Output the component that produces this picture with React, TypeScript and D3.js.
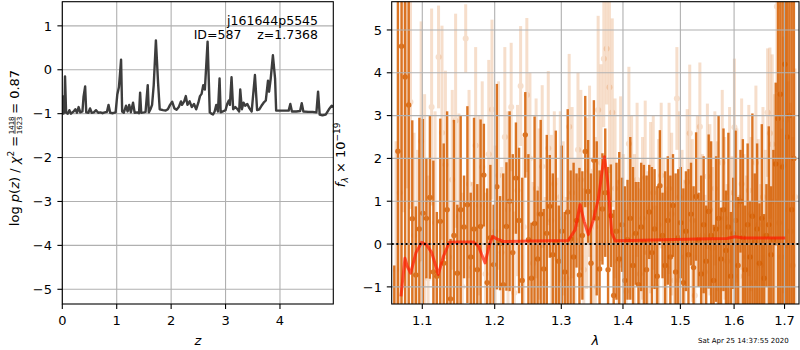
import React from "react";
import * as d3 from "d3";

const W = 800;
const H = 350;
const FONT = "DejaVu Sans, sans-serif";

// ---- left panel: log p(z) ----
const zGrid = [
  0.0, 0.02, 0.04, 0.05, 0.07, 0.1, 0.13, 0.16, 0.2, 0.24, 0.27, 0.3, 0.33, 0.37, 0.39, 0.42, 0.44,
  0.48, 0.51, 0.54, 0.58, 0.62, 0.66, 0.7, 0.74, 0.78, 0.82, 0.85, 0.88, 0.93, 0.98, 1.01, 1.04,
  1.06, 1.08, 1.1, 1.13, 1.17, 1.2, 1.23, 1.26, 1.3, 1.33, 1.38, 1.41, 1.43, 1.45, 1.5, 1.53, 1.57,
  1.59, 1.62, 1.65, 1.68, 1.72, 1.76, 1.79, 1.85, 1.9, 1.94, 1.98, 2.02, 2.06, 2.1, 2.14, 2.18,
  2.2, 2.24, 2.27, 2.3, 2.34, 2.38, 2.42, 2.46, 2.5, 2.53, 2.56, 2.59, 2.62, 2.67, 2.71, 2.74,
  2.77, 2.8, 2.83, 2.86, 2.89, 2.91, 2.95, 3.0, 3.03, 3.06, 3.08, 3.11, 3.14, 3.18, 3.22, 3.25,
  3.27, 3.3, 3.33, 3.36, 3.4, 3.44, 3.48, 3.54, 3.58, 3.62, 3.66, 3.7, 3.74, 3.78, 3.8, 3.83,
  3.87, 3.91, 3.93, 4.0, 4.08, 4.16, 4.19, 4.22, 4.3, 4.37, 4.4, 4.43, 4.52, 4.6, 4.67, 4.7, 4.73,
  4.78, 4.84, 4.9, 4.95, 4.98,
];
const logPz = [
  -0.58, -1.0, -0.95, -0.15, -0.98, -1.0, -0.92, -1.0, -0.96, -0.9, -0.98, -0.85, -0.97, -0.95,
  -0.62, -0.38, -0.97, -0.98, -0.88, -0.98, -0.97, -0.92, -0.98, -0.97, -0.99, -0.97, -0.96, -0.8,
  -0.98, -0.99, -0.97, -0.57, -0.4, -0.1, 0.23, -0.95, -0.98, -0.82, -0.95, -0.8, -0.97, -0.75,
  -0.98, -0.97, -0.99, -0.52, -0.98, -0.97, -0.96, -0.35, -0.97, -0.9, -0.8, -0.35, 0.67, -0.3,
  -0.9, -0.92, -0.93, -0.9, -0.8, -0.73, -0.88, -0.91, -0.85, -0.72, -0.8, -0.72, -0.6, -0.8,
  -0.72, -0.85, -0.78, -0.9, -0.75, -0.6, -0.55, -0.35, -0.45, 0.64, -0.97, -1.0, -1.02, -0.95,
  -0.8, -0.95, -0.2, -0.97, -0.95, -0.92, -0.78, -0.7, -0.8, -0.17, -0.9, -0.85, -0.9, -0.95,
  -0.45, -0.9, -0.75, -0.82, -0.78, -0.88, -0.95, -0.12, -0.92, -0.9, -0.82, -0.75, -0.7, -0.25,
  -0.5, -0.2, 0.33, -0.2, -0.93, -0.93, -0.93, -0.93, -0.78, -0.95, -0.95, -0.94, -0.76, -0.95,
  -0.96, -0.96, -0.97, -0.5, -1.02, -1.04, -1.02, -0.9, -0.82, -0.85,
];

// ---- right panel: spectrum (uniform grism sampling) ----
const darkLam0 = 1.0636;
const lightLam0 = 1.0659;
const dLam = 0.00465;

const darkFlux = [
  -2.0, 2.17, 4.62, 3.9, 3.25, 0.59, -0.72, 0.35, 0.72, 0.6,
  1.09, -0.65, -0.75, 0.53, -0.45, 0.8, -1.28, 0.2, -0.68, 0.8,
  0.4, 0.92, -0.3, 0.35, -0.6, 0.41, 1.61, -0.9, 0.15, -0.48,
  1.34, 0.02, -0.95, 0.41, 1.0, -0.2, 1.54, 0.55, -0.85, 2.55,
  0.1, -0.8, 0.48, -0.35, 0.7, -0.58, 0.25, 0.88, -0.25, 0.05,
  -0.4, 0.3, -0.65, 0.75, 0.12, -0.3, 0.55, -0.72, 0.2, 2.16,
  1.23, -0.45, 1.96, 0.6, -0.58, 0.82, 1.2, -0.6, 0.66, -1.2,
  0.3, -0.35, 0.45, -0.85, 0.1, 0.6, -0.5, 0.25, -0.95, 0.4,
  0.05, -0.6, 0.75, -0.2, 0.35, -0.75, 1.36, 0.2, -0.5, 0.55,
  -0.3, 0.9, -0.65, 0.15, 0.5, -0.9, 0.3, -0.25, 0.7, -0.55,
  1.11, 0.1, -0.7, 0.45, -0.4, 0.76, 0.2, -0.85, 0.35, 0.6,
  -0.35, 0.8, -0.15, 0.4, -0.75, 0.25, 0.55, -0.5, 1.0, 0.15,
  -0.6, 0.45, -0.3, 0.65, 0.05, 0.35, -0.45, 0.6, -0.8, 0.2,
  0.45, -0.25, 0.1, 1.87, 2.93, 3.5, 1.8, 4.2, 2.5, 3.0,
  0.8, 2.0,
];
const darkErr = [
  1.5, 9, 9, 9, 9,
  2.3, 1.6, 2.6, 2.2, 1.4, 1.9, 2.6, 1.5, 2.4, 2.8,
  2.3, 1.4, 2.7, 1.6, 2.2, 1.2, 2.3, 1.5, 2.6, 2.0,
  2.5, 1.2, 2.2, 1.7, 1.4, 2.4, 1.1, 2.6, 1.5, 2.1,
  2.3, 1.3, 1.7, 2.4, 1.0, 2.0, 1.3, 2.5, 1.6, 2.2,
  1.4, 2.3, 1.2, 1.9, 2.6, 1.3, 2.0, 1.4, 2.4, 1.6,
  2.2, 1.1, 2.5, 1.5, 1.3, 1.2, 2.1, 1.4, 1.8, 2.3,
  1.3, 1.5, 2.4, 1.2, 2.0, 1.6, 2.5, 1.1, 2.2, 1.4,
  1.9, 2.3, 1.2, 2.4, 1.5, 1.8, 2.2, 1.1, 2.0, 1.4,
  2.1, 1.3, 1.0, 2.2, 1.5, 1.9, 1.2, 2.3, 1.6, 1.3,
  2.2, 1.4, 2.0, 1.2, 1.9, 1.5, 1.1, 2.3, 1.6, 1.3,
  1.8, 2.2, 1.3, 1.7, 2.4, 1.2, 1.9, 1.4, 2.2, 1.5,
  1.3, 2.1, 1.6, 1.2, 2.3, 1.5, 1.9, 1.3, 2.4, 1.6,
  2.0, 1.4, 2.2, 1.5, 1.2, 2.3, 1.6, 2.1, 1.9,
  9, 9, 9, 9, 9, 9, 9, 9,
];
const lightFlux = [
  -0.6, 1.2, 3.94, 3.9, 3.32, 0.2, -0.4, 2.4, 1.0, -0.8,
  3.2, 0.5, 4.37, 2.6, 1.85, -0.3, 1.5, 2.88, 0.65, -1.0,
  4.8, 1.4, -0.55, 2.3, 0.9, 1.8, -0.7, 2.1, 3.14, 0.3,
  1.6, -0.2, 2.5, 0.8, 3.2, -1.14, 1.25, 3.69, 0.4, 3.48,
  2.0, -0.45, 1.3, 0.7, 1.81, -0.9, 2.24, 0.55, 1.4, -0.35,
  1.1, 0.6, -0.8, 2.74, 1.2, 0.1, 2.2, 1.5, -0.6, 0.95,
  1.7, -1.0, 0.4, 3.13, 1.9, 4.33, 4.56, 3.66, 3.07, 1.3,
  -0.4, 1.45, 0.3, -1.1, 2.34, 1.0, 0.2, 1.5, -0.7, 0.6,
  1.55, -0.2, 0.85, 1.2, -1.0, 0.45, 1.6, 0.1, -0.55, 1.3,
  0.7, -0.85, 3.4, 1.1, 0.3, -0.3, 1.45, 2.59, 0.55, -1.2,
  1.0, 2.74, 0.2, -0.65, 1.58, 0.8, -0.1, 1.3, 0.4, -1.05,
  1.9, 0.6, -0.4, 1.2, 0.15, 2.73, 0.9, -0.75, 1.4, 0.3,
  -0.3, 1.25, 0.7, -0.9, 1.9, 0.45, -0.5, 1.1, 0.2, 3.07,
  2.59, 2.33, 1.0, 5.55, 0.5, -0.3, 1.85, 2.9, 0.8, 0.3,
  -0.5, 1.1,
];
const lightErr = [
  3.0, 2.8, 3.2, 2.6, 2.5, 2.4, 2.6, 2.8, 2.5, 2.4,
  2.3, 2.6, 1.2, 2.5, 2.2, 2.3, 2.1, 2.5, 2.4, 2.2,
  0.8, 2.2, 2.0, 2.3, 2.1, 2.0, 1.9, 2.2, 2.1, 2.0,
  2.2, 2.0, 2.1, 2.3, 1.5, 1.9, 2.0, 1.4, 2.1, 1.8,
  2.0, 1.9, 2.1, 2.0, 1.9, 2.0, 1.8, 2.0, 1.7, 1.9,
  2.0, 1.8, 1.9, 1.7, 2.0, 1.9, 1.8, 2.1, 1.9, 2.0,
  2.0, 1.8, 2.1, 2.2, 2.3, 1.6, 1.3, 2.0, 2.2, 2.1,
  1.9, 2.0, 1.8, 1.9, 1.8, 2.0, 1.9, 1.8, 2.0, 1.9,
  1.8, 1.9, 2.0, 1.8, 1.9, 2.0, 1.7, 1.9, 1.8, 2.0,
  1.9, 1.8, 1.2, 2.0, 1.9, 1.8, 1.7, 1.6, 1.9, 1.8,
  2.0, 1.5, 1.9, 1.8, 1.7, 2.0, 1.9, 1.8, 2.0, 1.9,
  1.7, 1.9, 1.8, 2.0, 1.9, 1.6, 1.8, 1.9, 2.0, 1.8,
  1.9, 2.0, 1.8, 1.9, 1.8, 2.0, 1.9, 2.1, 2.0, 1.5,
  2.0, 2.1, 2.5, 2.0, 3.0, 3.0, 3.0, 3.0, 3.0, 3.0,
  3.0, 3.0,
];

// best-fit model
const modelLam = [
  1.0722, 1.0773, 1.0804, 1.0847, 1.0917, 1.0992, 1.1058, 1.1125, 1.1214, 1.1282, 1.1363, 1.1464,
  1.1696, 1.1767, 1.1862, 1.1924, 1.1972, 1.2029, 1.2126, 1.2521, 1.3111, 1.3217, 1.3297, 1.3361,
  1.343, 1.3512, 1.3593, 1.3664, 1.3691, 1.3741, 1.3813, 1.3868, 1.4121, 1.4697, 1.5299, 1.5861,
  1.602, 1.6182, 1.7014,
];
const modelFlux = [
  -1.22, -0.33, -0.52, -0.68, -0.2, 0.04, -0.02, -0.2, -0.71, -0.29, 0.04, 0.05,
  0.05, -0.05, -0.44, -0.02, 0.18, 0.12, 0.06, 0.07, 0.085, 0.33, 0.92, 0.53,
  0.22, 0.57, 1.07, 1.81, 2.04, 1.5, 0.26, 0.08, 0.085, 0.1, 0.116, 0.13,
  0.17, 0.14, 0.14,
];

const zTicks = [0, 1, 2, 3, 4];
const pzTicks = [-5, -4, -3, -2, -1, 0, 1];
const lamTicks = [1.1, 1.2, 1.3, 1.4, 1.5, 1.6, 1.7];
const fluxTicks = [-1, 0, 1, 2, 3, 4, 5];

const ORANGE = "#d55e00";
const GRID = "#b0b0b0";
const TICK = 4.9;
const fmt = (v: number) => (v < 0 ? "\u2212" + Math.abs(v) : String(v));

// axes boxes
const L = { x0: 62.3, x1: 333.3, y0: 1.7, y1: 304 };
const R = { x0: 391.7, x1: 799, y0: 1.7, y1: 304 };

const xz = d3.scaleLinear().domain([0, 4.98]).range([L.x0, L.x1]);
const yz = d3.scaleLinear().domain([-5.335, 1.55]).range([L.y1, L.y0]);
const xl = d3.scaleLog().domain([1.0603, 1.7298]).range([R.x0, R.x1]);
const yf = d3.scaleLinear().domain([-1.4, 5.66]).range([R.y1, R.y0]);

const pzLine = d3
  .line<number>()
  .x((_, i) => xz(zGrid[i]))
  .y((d) => yz(d));

const modelLine = d3
  .line<number>()
  .x((_, i) => xl(modelLam[i]))
  .y((d) => yf(d));

function ErrorBars({
  lam0,
  flux,
  err,
  opacity,
  width,
  r,
}: {
  lam0: number;
  flux: number[];
  err: number[];
  opacity: number;
  width: number;
  r: number;
}) {
  return (
    <g>
      {flux.map((f, i) => {
        const x = xl(lam0 + i * dLam);
        return (
          <g key={i} opacity={opacity}>
            <line x1={x} x2={x} y1={yf(f - err[i])} y2={yf(f + err[i])} stroke={ORANGE} strokeWidth={width} />
            <circle cx={x} cy={yf(f)} r={r} fill={ORANGE} />
          </g>
        );
      })}
    </g>
  );
}

function Frame({ box }: { box: typeof L }) {
  return (
    <rect
      x={box.x0}
      y={box.y0}
      width={box.x1 - box.x0}
      height={box.y1 - box.y0}
      fill="none"
      stroke="#000"
      strokeWidth={1.1}
    />
  );
}

export default function App() {
  return (
    <svg
      width={W}
      height={H}
      style={{ position: "absolute", left: 0, top: 0, background: "#fff" }}
      fontFamily={FONT}
    >
      <defs>
        <clipPath id="clipL">
          <rect x={L.x0} y={L.y0} width={L.x1 - L.x0} height={L.y1 - L.y0} />
        </clipPath>
        <clipPath id="clipR">
          <rect x={R.x0} y={R.y0} width={R.x1 - R.x0} height={R.y1 - R.y0} />
        </clipPath>
      </defs>
      <rect width={W} height={H} fill="#fff" />

      {/* ---------- left panel ---------- */}
      <g>
        {zTicks.map((t) => (
          <line key={"gx" + t} x1={xz(t)} x2={xz(t)} y1={L.y0} y2={L.y1} stroke={GRID} strokeWidth={1.1} />
        ))}
        {pzTicks.map((t) => (
          <line key={"gy" + t} x1={L.x0} x2={L.x1} y1={yz(t)} y2={yz(t)} stroke={GRID} strokeWidth={1.1} />
        ))}
        <path
          d={pzLine(logPz) || ""}
          fill="none"
          stroke="#3d3d3d"
          strokeWidth={2.4}
          strokeLinejoin="round"
          clipPath="url(#clipL)"
        />
        <Frame box={L} />
        {zTicks.map((t) => (
          <g key={"tx" + t}>
            <line x1={xz(t)} x2={xz(t)} y1={L.y1} y2={L.y1 + TICK} stroke="#000" strokeWidth={1.1} />
            <text x={xz(t)} y={325} fontSize={13} textAnchor="middle">
              {fmt(t)}
            </text>
          </g>
        ))}
        {pzTicks.map((t) => (
          <g key={"ty" + t}>
            <line x1={L.x0 - TICK} x2={L.x0} y1={yz(t)} y2={yz(t)} stroke="#000" strokeWidth={1.1} />
            <text x={52} y={yz(t)} dy="0.36em" fontSize={13} textAnchor="end">
              {fmt(t)}
            </text>
          </g>
        ))}
        <text x={(L.x0 + L.x1) / 2} y={345} fontSize={13} fontStyle="italic" textAnchor="middle">
          z
        </text>
        <text x={318} y={25} fontSize={12.5} textAnchor="end">
          j161644p5545
        </text>
        <text x={318} y={39} fontSize={12.5} textAnchor="end" style={{ whiteSpace: "pre" }}>
          {"ID=587    z=1.7368"}
        </text>
        {/* y label with stacked fraction */}
        <g transform={`translate(19,${(L.y0 + L.y1) / 2}) rotate(-90)`} fontSize={13}>
          <text x={17} y={0} textAnchor="end" style={{ whiteSpace: "pre" }}>
            <tspan>log </tspan>
            <tspan fontStyle="italic">p</tspan>
            <tspan>(</tspan>
            <tspan fontStyle="italic">z</tspan>
            <tspan>{") / "}</tspan>
            <tspan fontStyle="italic">χ</tspan>
            <tspan fontSize={9} dy={-5}>
              2
            </tspan>
            <tspan dy={5}>{" ="}</tspan>
          </text>
          <text x={27.5} y={-5.5} fontSize={7} textAnchor="middle">
            1418
          </text>
          <line x1={19} x2={36} y1={-4} y2={-4} stroke="#000" strokeWidth={0.7} />
          <text x={27.5} y={3} fontSize={7} textAnchor="middle">
            1623
          </text>
          <text x={39} y={0} style={{ whiteSpace: "pre" }}>
            {"= 0.87"}
          </text>
        </g>
      </g>

      {/* ---------- right panel ---------- */}
      <g>
        <g clipPath="url(#clipR)">
          <ErrorBars lam0={lightLam0} flux={lightFlux} err={lightErr} opacity={0.2} width={3} r={3} />
          <ErrorBars lam0={darkLam0} flux={darkFlux} err={darkErr} opacity={0.85} width={2.4} r={2.7} />
          {lamTicks.map((t) => (
            <line key={"gx" + t} x1={xl(t)} x2={xl(t)} y1={R.y0} y2={R.y1} stroke={GRID} strokeWidth={1.1} />
          ))}
          {fluxTicks.map((t) => (
            <line key={"gy" + t} x1={R.x0} x2={R.x1} y1={yf(t)} y2={yf(t)} stroke={GRID} strokeWidth={1.1} />
          ))}
          <path
            d={modelLine(modelFlux) || ""}
            fill="none"
            stroke="#ff1a00"
            strokeOpacity={0.7}
            strokeWidth={3}
            strokeLinejoin="round"
          />
          <line
            x1={R.x0}
            x2={R.x1}
            y1={yf(0)}
            y2={yf(0)}
            stroke="#000"
            strokeWidth={2}
            strokeDasharray="2,2.6"
          />
        </g>
        <Frame box={R} />
        {lamTicks.map((t) => (
          <g key={"tx" + t}>
            <line x1={xl(t)} x2={xl(t)} y1={R.y1} y2={R.y1 + TICK} stroke="#000" strokeWidth={1.1} />
            <text x={xl(t)} y={325} fontSize={13} textAnchor="middle">
              {t.toFixed(1)}
            </text>
          </g>
        ))}
        {fluxTicks.map((t) => (
          <g key={"ty" + t}>
            <line x1={R.x0 - TICK} x2={R.x0} y1={yf(t)} y2={yf(t)} stroke="#000" strokeWidth={1.1} />
            <text x={382} y={yf(t)} dy="0.36em" fontSize={13} textAnchor="end">
              {fmt(t)}
            </text>
          </g>
        ))}
        <text x={(R.x0 + R.x1) / 2} y={345} fontSize={13} fontStyle="italic" textAnchor="middle">
          λ
        </text>
        <g transform={`translate(345,${(R.y0 + R.y1) / 2 + 2}) rotate(-90)`} fontSize={13}>
          <text x={0} y={0} textAnchor="middle" style={{ whiteSpace: "pre" }}>
            <tspan fontStyle="italic">f</tspan>
            <tspan fontStyle="italic" fontSize={9} dy={3}>
              λ
            </tspan>
            <tspan dy={-3}>{" × 10"}</tspan>
            <tspan fontSize={9} dy={-5}>
              −19
            </tspan>
          </text>
        </g>
        <text x={698} y={343} fontSize={7}>
          Sat Apr 25 14:37:55 2020
        </text>
      </g>
    </svg>
  );
}
